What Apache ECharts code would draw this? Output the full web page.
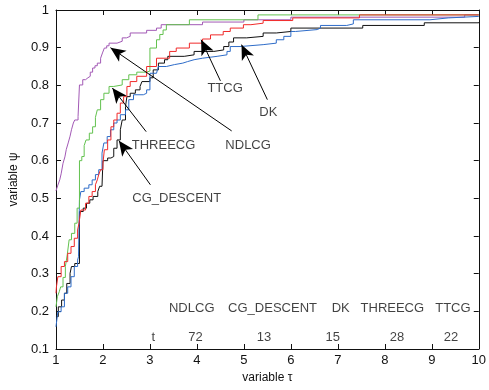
<!DOCTYPE html>
<html>
<head>
<meta charset="utf-8">
<script src="https://cdn.jsdelivr.net/npm/echarts@6/dist/echarts.min.js"></script>
<style>
  html, body { margin: 0; padding: 0; background: #fff; }
  #chart { width: 489px; height: 390px; }
</style>
</head>
<body>
<div id="chart"></div>
<script>
// Performance profiles: fraction of problems (psi) solved within factor tau of the best.
const solvers = ['NDLCG', 'CG_DESCENT', 'DK', 'THREECG', 'TTCG'];
const cpuTimes = [72, 13, 15, 28, 22];

const xTicks = [1, 2, 3, 4, 5, 6, 7, 8, 9, 10];
const yTicks = [0.1, 0.2, 0.3, 0.4, 0.5, 0.6, 0.7, 0.8, 0.9, 1];

const ndlcg = [
  [1, 0.52], [1.04, 0.535], [1.08, 0.549], [1.11, 0.565], [1.15, 0.593], [1.19, 0.61],
  [1.22, 0.63], [1.26, 0.647], [1.30, 0.665], [1.33, 0.682], [1.37, 0.70], [1.40, 0.708],
  [1.47, 0.717], [1.50, 0.801], [1.57, 0.815], [1.63, 0.82], [1.68, 0.824], [1.73, 0.835],
  [1.78, 0.846], [1.83, 0.852], [1.88, 0.859], [1.95, 0.872], [1.99, 0.886], [2.03, 0.899],
  [2.08, 0.905], [2.13, 0.912], [2.30, 0.917], [2.41, 0.926], [2.50, 0.930], [2.58, 0.939],
  [2.93, 0.946], [3.14, 0.952], [3.24, 0.961], [4.12, 0.968], [5.0, 0.974], [6.0, 0.981],
  [9.7, 0.987], [10, 0.987]
];

const cgDescent = [
  [1, 0.186], [1.05, 0.212], [1.12, 0.23], [1.18, 0.248], [1.23, 0.274], [1.30, 0.301],
  [1.33, 0.319], [1.40, 0.327], [1.50, 0.465], [1.58, 0.474], [1.65, 0.487], [1.72, 0.496],
  [1.79, 0.505], [1.89, 0.518], [1.93, 0.532], [1.98, 0.536], [2.0, 0.60], [2.1, 0.607],
  [2.17, 0.611], [2.23, 0.633], [2.30, 0.655], [2.37, 0.682], [2.41, 0.708], [2.48, 0.744],
  [2.51, 0.770], [2.58, 0.779], [2.69, 0.788], [2.79, 0.797], [2.83, 0.81], [3.0, 0.82],
  [3.07, 0.841], [3.18, 0.859], [3.31, 0.868], [3.38, 0.877], [3.73, 0.881], [3.94, 0.890],
  [4.36, 0.894], [4.57, 0.903], [4.68, 0.915], [4.78, 0.926], [5.06, 0.930], [5.41, 0.939],
  [5.69, 0.943], [6.0, 0.952], [7.53, 0.959], [8.84, 0.966], [10, 0.968]
];

const dk = [
  [1, 0.159], [1.04, 0.199], [1.11, 0.212], [1.18, 0.248], [1.25, 0.265], [1.32, 0.292],
  [1.39, 0.319], [1.46, 0.336], [1.48, 0.345], [1.50, 0.496], [1.53, 0.518], [1.60, 0.527],
  [1.70, 0.536], [1.77, 0.549], [1.84, 0.563], [1.91, 0.576], [1.98, 0.620], [2.02, 0.647],
  [2.09, 0.664], [2.16, 0.682], [2.23, 0.70], [2.30, 0.708], [2.37, 0.722], [2.48, 0.735],
  [2.55, 0.762], [2.65, 0.775], [2.86, 0.779], [2.93, 0.788], [3.0, 0.832], [3.14, 0.837],
  [3.18, 0.850], [3.35, 0.855], [3.52, 0.859], [3.70, 0.863], [3.80, 0.868], [3.94, 0.872],
  [4.12, 0.877], [4.43, 0.881], [4.64, 0.890], [4.71, 0.903], [4.92, 0.908], [5.41, 0.912],
  [5.69, 0.921], [5.85, 0.930], [6.0, 0.943], [6.10, 0.948], [6.56, 0.952], [6.63, 0.959],
  [7.19, 0.963], [7.33, 0.974], [8.96, 0.979], [9.35, 0.983], [10, 0.984]
];

const threecg = [
  [1, 0.212], [1.03, 0.239], [1.07, 0.252], [1.10, 0.265], [1.15, 0.29], [1.20, 0.319],
  [1.24, 0.35], [1.28, 0.39], [1.33, 0.407], [1.40, 0.434], [1.45, 0.474], [1.50, 0.60],
  [1.55, 0.611], [1.60, 0.64], [1.64, 0.655], [1.71, 0.673], [1.78, 0.69], [1.84, 0.715],
  [1.88, 0.735], [1.95, 0.762], [2.02, 0.779], [2.13, 0.797], [2.23, 0.801], [2.41, 0.815],
  [2.55, 0.828], [2.72, 0.835], [2.93, 0.838], [3.0, 0.899], [3.14, 0.921], [3.21, 0.935],
  [3.28, 0.947], [3.35, 0.961], [3.84, 0.974], [5.3, 0.987], [10, 0.987]
];

const ttcg = [
  [1, 0.248], [1.01, 0.265], [1.04, 0.292], [1.11, 0.319], [1.18, 0.332], [1.25, 0.354],
  [1.32, 0.372], [1.39, 0.394], [1.46, 0.416], [1.49, 0.434], [1.53, 0.469], [1.63, 0.487],
  [1.70, 0.505], [1.77, 0.518], [1.84, 0.536], [1.88, 0.549], [1.91, 0.563], [1.95, 0.576],
  [2.0, 0.593], [2.03, 0.629], [2.10, 0.655], [2.17, 0.69], [2.23, 0.708], [2.30, 0.726],
  [2.37, 0.753], [2.44, 0.770], [2.51, 0.797], [2.58, 0.810], [2.72, 0.824], [2.93, 0.850],
  [3.14, 0.872], [3.42, 0.890], [3.56, 0.899], [3.84, 0.912], [4.12, 0.923], [4.29, 0.934],
  [4.56, 0.943], [4.71, 0.952], [4.99, 0.961], [5.15, 0.965], [5.41, 0.972], [6.04, 0.979],
  [7.46, 0.987], [10, 0.987]
];

const curveColors = ['#a259b5', '#111111', '#2e6cc8', '#63c24f', '#f02a2a'];
const curves = [ndlcg, cgDescent, dk, threecg, ttcg];

// Layout of the in-plot table and arrow callouts (tau, psi positions).
const tableNameTau = [3.89, 5.61, 7.06, 8.16, 9.45];
const tableTimeTau = [3.97, 5.43, 6.89, 8.26, 9.41];
const tableNamePsi = 0.209;
const tableTimePsi = 0.132;
const tableHeadTau = 3.07;

const callouts = [
  { text: 'TTCG',       at: [4.60, 0.791], from: [4.50, 0.812], to: [4.09, 0.921] },
  { text: 'DK',         at: [5.52, 0.727], from: [5.50, 0.762], to: [4.95, 0.908] },
  { text: 'NDLCG',      at: [5.09, 0.640], from: [4.74, 0.679], to: [2.16, 0.900] },
  { text: 'THREECG',    at: [3.29, 0.640], from: [2.92, 0.677], to: [2.20, 0.793] },
  { text: 'CG_DESCENT', at: [3.57, 0.501], from: [3.01, 0.536], to: [2.34, 0.653] }
];

const FONT = 'Liberation Sans, Arial, sans-serif';
const INK = '#111';

const textPoints = [];
solvers.forEach((s, i) => textPoints.push([tableNameTau[i], tableNamePsi, s]));
textPoints.push([tableHeadTau, tableTimePsi, 't']);
cpuTimes.forEach((t, i) => textPoints.push([tableTimeTau[i], tableTimePsi, String(t)]));
callouts.forEach(c => textPoints.push([c.at[0], c.at[1], c.text]));

const chart = echarts.init(document.getElementById('chart'), null, { renderer: 'canvas' });

const baseAxisLine = { show: true, onZero: false, lineStyle: { color: INK, width: 1 } };
const baseTick = { show: true, inside: true, length: 5, lineStyle: { color: INK, width: 1 } };

const series = curves.map((data, i) => ({
  name: solvers[i],
  type: 'line',
  step: 'end',
  data: data,
  showSymbol: false,
  symbol: 'none',
  clip: true,
  lineStyle: { color: curveColors[i], width: 1 },
  itemStyle: { color: curveColors[i] },
  emphasis: { disabled: true },
  z: 3
}));

series.push({
  name: 'notes',
  type: 'scatter',
  data: textPoints,
  symbolSize: 1,
  itemStyle: { color: 'rgba(0,0,0,0)' },
  label: {
    show: true,
    position: 'inside',
    formatter: p => p.value[2],
    fontFamily: FONT,
    fontSize: 13,
    color: INK
  },
  emphasis: { disabled: true },
  silent: true,
  z: 5,
  markLine: {
    silent: true,
    symbol: ['none', 'arrow'],
    symbolSize: [10, 15],
    precision: 4,
    label: { show: false },
    lineStyle: { color: '#000', width: 1, type: 'solid' },
    itemStyle: { color: '#000' },
    emphasis: { disabled: true },
    data: callouts.map(c => [{ coord: c.from }, { coord: c.to }])
  }
});

chart.setOption({
  animation: false,
  backgroundColor: '#fff',
  grid: { left: 51, right: 8, top: 10, bottom: 41, containLabel: false },
  xAxis: [
    {
      type: 'value', min: xTicks[0], max: xTicks[xTicks.length - 1], interval: 1,
      position: 'bottom',
      axisLine: baseAxisLine, axisTick: baseTick,
      axisLabel: { fontFamily: FONT, fontSize: 13, color: INK, margin: 5 },
      splitLine: { show: false },
      name: 'variable τ', nameLocation: 'middle', nameGap: 22,
      nameTextStyle: { fontFamily: FONT, fontSize: 12, color: INK }
    },
    {
      type: 'value', min: xTicks[0], max: xTicks[xTicks.length - 1], interval: 1,
      position: 'top',
      axisLine: baseAxisLine, axisTick: baseTick,
      axisLabel: { show: false }, splitLine: { show: false }
    }
  ],
  yAxis: [
    {
      type: 'value', min: yTicks[0], max: yTicks[yTicks.length - 1], interval: 0.1,
      position: 'left',
      axisLine: baseAxisLine, axisTick: baseTick,
      axisLabel: { fontFamily: FONT, fontSize: 13, color: INK, margin: 7,
        formatter: v => String(Math.round(v * 10) / 10) },
      splitLine: { show: false },
      name: 'variable ψ', nameLocation: 'middle', nameGap: 34,
      nameTextStyle: { fontFamily: FONT, fontSize: 12, color: INK }
    },
    {
      type: 'value', min: yTicks[0], max: yTicks[yTicks.length - 1], interval: 0.1,
      position: 'right',
      axisLine: baseAxisLine, axisTick: baseTick,
      axisLabel: { show: false }, splitLine: { show: false }
    }
  ],
  series: series
});
</script>
</body>
</html>
